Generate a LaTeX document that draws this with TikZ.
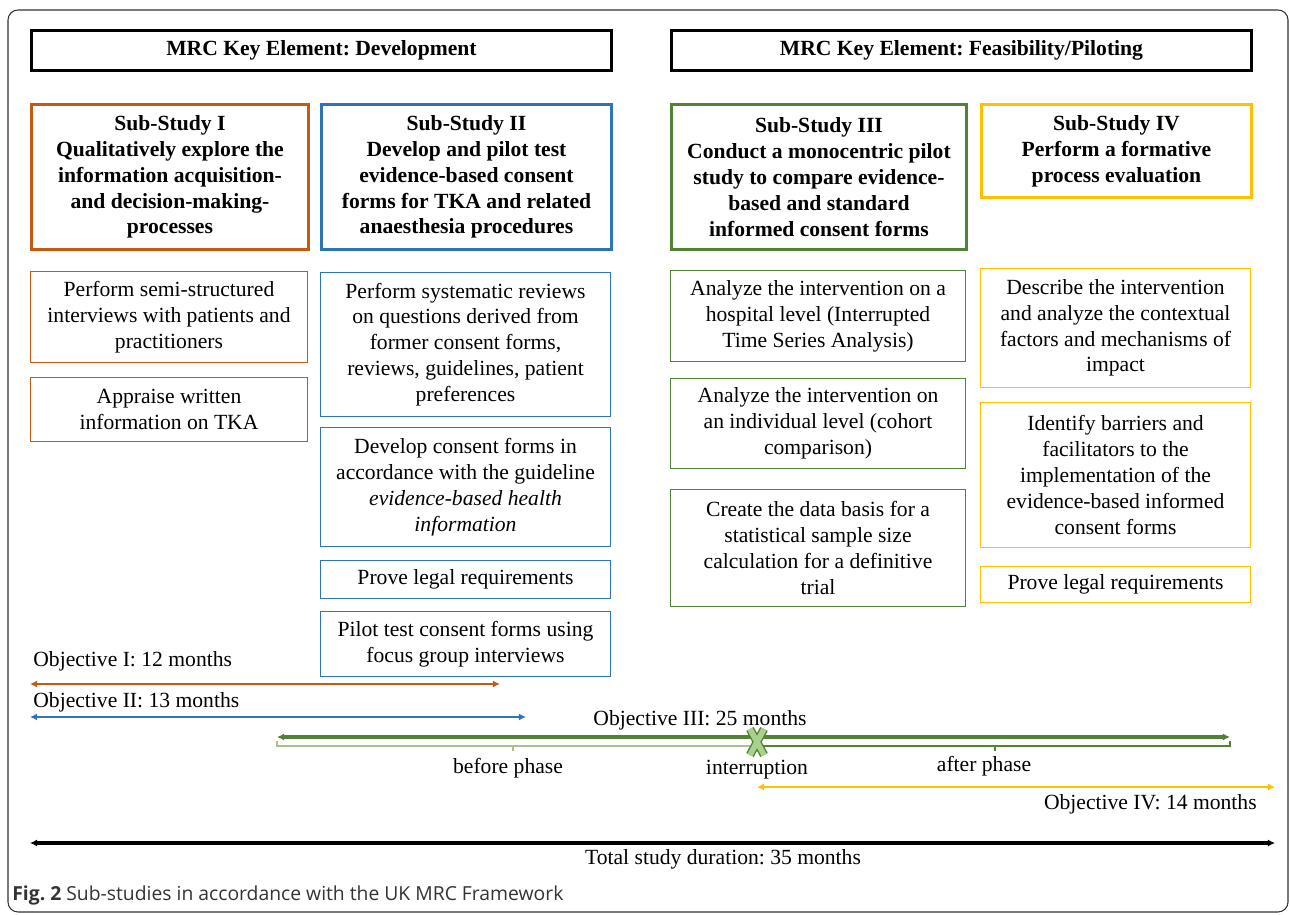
\documentclass[tikz,border=0pt]{standalone}
\usepackage{fontspec}
\setmainfont{Liberation Serif}
\newfontfamily\captionfont{Open Sans}
\usetikzlibrary{arrows.meta,calc}

\definecolor{orangeI}{HTML}{C55A11}
\definecolor{blueII}{HTML}{2E75B6}
\definecolor{greenIII}{HTML}{548235}
\definecolor{paleIII}{HTML}{A9C191}
\definecolor{crossIII}{HTML}{A9D18E}
\definecolor{yellowIV}{HTML}{FFC000}

\newcommand{\boxfont}{\fontsize{12.3}{14.7}\selectfont}

\tikzset{
    outerframe/.style = {
    	draw=black!80,
    	line width=0.6pt,
    	rounded corners=0.2cm
    },
    element/.style = {
    	draw=black,
    	line width=1.7pt,
    	anchor=north west,
    	minimum width=11.6cm,
    	minimum height=0.8cm,
    	font=\boxfont\bfseries
    },
    substudy/.style = {
    	draw=#1,
    	line width=1.7pt,
    	anchor=north west,
    	align=center,
    	font=\boxfont\bfseries
    },
    task/.style = {
    	draw=#1,
    	line width=0.6pt,
    	anchor=north west,
    	align=center,
    	font=\boxfont
    },
    objective/.style = {
    	>={Latex[length=4pt,width=4pt]},
    	<->,
    	line width=1.6pt,
    	draw=#1
    },
    phase/.style = {
    	line width=0.8pt,
    	draw=#1
    },
    timetext/.style = {
    	font=\boxfont,
    	inner sep=0pt
    }
}

\begin{document}
\frenchspacing
\begin{tikzpicture}[x=0.02cm, y=-0.02cm]

	\useasboundingbox (0,0) rectangle (1290,915);
	\draw[outerframe] (8,10) rectangle (1288,912);

	% MRC key elements
	\node[element] (dev) at (30,29) {MRC Key Element: Development};
	\node[element] (feas) at (670,29) {MRC Key Element: Feasibility/Piloting};

	% Sub-studies
	\node[substudy=orangeI, minimum width=5.54cm, minimum height=2.9cm] (subI) at (30,103)
		{Sub-Study I\\Qualitatively explore the\\information acquisition-\\and decision-making-\\processes};
	\node[substudy=blueII, minimum width=5.8cm, minimum height=2.9cm] (subII) at (320,103)
		{Sub-Study II\\Develop and pilot test\\evidence-based consent\\forms for TKA and related\\anaesthesia procedures};
	\node[substudy=greenIII, minimum width=5.9cm, minimum height=2.9cm] (subIII) at (670,103)
		{Sub-Study III\\Conduct a monocentric pilot\\study to compare evidence-\\based and standard\\informed consent forms};
	\node[substudy=yellowIV, minimum width=5.4cm, minimum height=1.86cm] (subIV) at (980,103)
		{Sub-Study IV\\Perform a formative\\process evaluation};

	% Tasks sub-study I
	\node[task=orangeI, minimum width=5.54cm, minimum height=1.82cm] (taskIa) at (30,271)
		{Perform semi-structured\\interviews with patients and\\practitioners};
	\node[task=orangeI, minimum width=5.54cm, minimum height=1.28cm] (taskIb) at (30,377)
		{Appraise written\\information on TKA};

	% Tasks sub-study II
	\node[task=blueII, minimum width=5.8cm, minimum height=2.88cm] (taskIIa) at (320,272)
		{Perform systematic reviews\\on questions derived from\\former consent forms,\\reviews, guidelines, patient\\preferences};
	\node[task=blueII, minimum width=5.8cm, minimum height=2.38cm] (taskIIb) at (320,427)
		{Develop consent forms in\\accordance with the guideline\\\textit{evidence-based health}\\\textit{information}};
	\node[task=blueII, minimum width=5.8cm, minimum height=0.76cm] (taskIIc) at (320,560)
		{Prove legal requirements};
	\node[task=blueII, minimum width=5.8cm, minimum height=1.3cm] (taskIId) at (320,611)
		{Pilot test consent forms using\\focus group interviews};

	% Tasks sub-study III
	\node[task=greenIII, minimum width=5.9cm, minimum height=1.82cm] (taskIIIa) at (670,270)
		{Analyze the intervention on a\\hospital level (Interrupted\\Time Series Analysis)};
	\node[task=greenIII, minimum width=5.9cm, minimum height=1.8cm] (taskIIIb) at (670,378)
		{Analyze the intervention on\\an individual level (cohort\\comparison)};
	\node[task=greenIII, minimum width=5.9cm, minimum height=2.34cm] (taskIIIc) at (670,489)
		{Create the data basis for a\\statistical sample size\\calculation for a definitive\\trial};

	% Tasks sub-study IV
	\node[task=yellowIV, minimum width=5.4cm, minimum height=2.38cm] (taskIVa) at (980,268)
		{Describe the intervention\\and analyze the contextual\\factors and mechanisms of\\impact};
	\node[task=yellowIV, minimum width=5.4cm, minimum height=2.9cm] (taskIVb) at (980,402)
		{Identify barriers and\\facilitators to the\\implementation of the\\evidence-based informed\\consent forms};
	\node[task=yellowIV, minimum width=5.4cm, minimum height=0.72cm] (taskIVc) at (980,566)
		{Prove legal requirements};

	% Zeitachse
	\coordinate (oIs) at (30,684);
	\coordinate (oIe) at (500,684);
	\coordinate (oIIs) at (30,717);
	\coordinate (oIIe) at (526,717);
	\coordinate (oIIIs) at (277,737);
	\coordinate (oIIIe) at (1230,737);
	\coordinate (oIVs) at (757,787);
	\coordinate (oIVe) at (1275,787);
	\coordinate (tots) at (30,843);
	\coordinate (tote) at (1275,843);

	\path (oIIIs) + (0,9) coordinate (brs);
	\path (oIIIe) + (0,9) coordinate (bre);
	\coordinate (intr) at (757,742);
	\path (brs) + (236,0) coordinate (before);
	\path (bre) + (-235,0) coordinate (after);

	\node[timetext, anchor=west] (objI) at (33,661) {Objective I: 12 months};
	\draw[objective=orangeI] (oIs) -- (oIe);

	\node[timetext, anchor=west] (objII) at (33,702) {Objective II: 13 months};
	\draw[objective=blueII] (oIIs) -- (oIIe);

	\node[timetext] (objIII) at (700,720) {Objective III: 25 months};
	\draw[objective=greenIII, line width=2pt] (oIIIs) -- (oIIIe);

	% before / after phase
	\draw[phase=paleIII] ($(brs)+(0,-5)$) -- (brs) -- (brs -| intr);
	\draw[phase=paleIII] (before) -- ++(0,5);
	\draw[phase=greenIII] (brs -| intr) -- (bre) -- ++(0,-5);
	\draw[phase=greenIII] (after) -- ++(0,5);

	\draw[line width=4.8pt, greenIII]
		($(intr)+(-7,-13)$) -- ($(intr)+(7,13)$)
		($(intr)+(7,-13)$) -- ($(intr)+(-7,13)$);
	\draw[line width=3.2pt, crossIII]
		($(intr)+(-7,-13)$) -- ($(intr)+(7,13)$)
		($(intr)+(7,-13)$) -- ($(intr)+(-7,13)$);

	\node[timetext] (beforelbl) at (508,768) {before phase};
	\node[timetext] (intrlbl) at (757,770) {interruption};
	\node[timetext] (afterlbl) at (984,766) {after phase};

	\draw[objective=yellowIV] (oIVs) -- (oIVe);
	\node[timetext, anchor=east] (objIV) at (1257,804) {Objective IV: 14 months};

	\draw[objective=black, line width=2.4pt] (tots) -- (tote);
	\node[timetext] (total) at (723,859) {Total study duration: 35 months};

	% Bildunterschrift
	\node[anchor=west, inner sep=0pt, text=black!80, font=\captionfont\fontsize{11}{14}\selectfont] (caption) at (12,895)
		{\textbf{Fig. 2} Sub-studies in accordance with the UK MRC Framework};

\end{tikzpicture}
\end{document}
